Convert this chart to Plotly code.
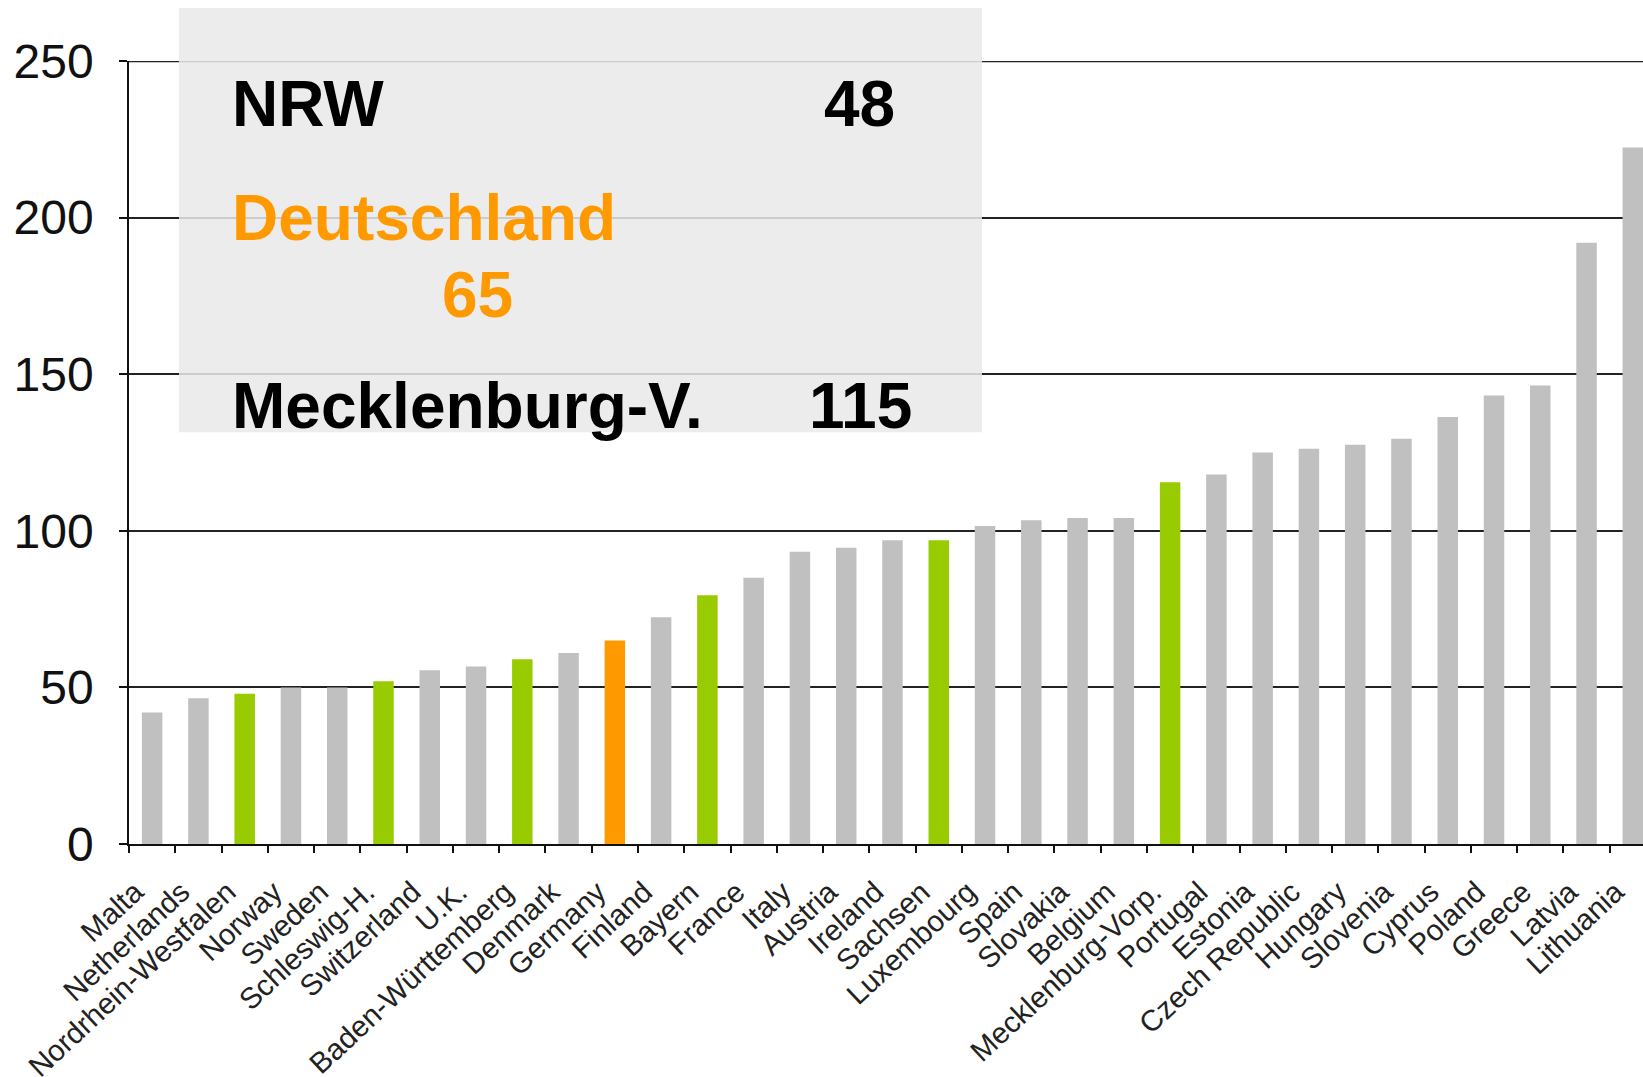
import plotly.graph_objects as go

categories = ["Malta", "Netherlands", "Nordrhein-Westfalen", "Norway", "Sweden", "Schleswig-H.",
              "Switzerland", "U.K.", "Baden-Württemberg", "Denmark", "Germany", "Finland",
              "Bayern", "France", "Italy", "Austria", "Ireland", "Sachsen", "Luxembourg",
              "Spain", "Slovakia", "Belgium", "Mecklenburg-Vorp.", "Portugal", "Estonia",
              "Czech Republic", "Hungary", "Slovenia", "Cyprus", "Poland", "Greece",
              "Latvia", "Lithuania"]
values = [42, 46.5, 48, 50, 50, 52, 55.5, 56.7, 59, 61, 65, 72.4, 79.4, 85, 93.3, 94.6,
          97, 97, 101.5, 103.4, 104.1, 104.1, 115.5, 118, 125, 126.2, 127.5, 129.4,
          136.3, 143.2, 146.4, 192, 222.4]
german_states = ["Nordrhein-Westfalen", "Schleswig-H.", "Baden-Württemberg", "Bayern",
                 "Sachsen", "Mecklenburg-Vorp."]
highlight_germany = "Germany"
y_ticks = [0, 50, 100, 150, 200, 250]

GRAY = "#C0C0C0"
GREEN = "#99CC00"
ORANGE = "#FF9900"

colors = []
for c in categories:
    if c == highlight_germany:
        colors.append(ORANGE)
    elif c in german_states:
        colors.append(GREEN)
    else:
        colors.append(GRAY)

FONT = "Liberation Sans, Arial, sans-serif"

fig = go.Figure(go.Bar(x=categories, y=values, marker=dict(color=colors, line=dict(width=0)),
                       hoverinfo="x+y"))

fig.update_layout(
    width=1643, height=1077,
    margin=dict(l=129, r=0, t=61, b=233, autoexpand=False),
    paper_bgcolor="white", plot_bgcolor="white",
    bargap=0.557,
    showlegend=False,
    font=dict(family=FONT, color="#111"),
)
fig.update_xaxes(
    type="category", range=[-0.5, 32.22], automargin=False,
    tickson="boundaries", ticks="outside", ticklen=7, tickwidth=2, tickcolor="#111",
    showline=True, linecolor="#111", linewidth=2,
    showgrid=False, tickangle=-43,
    tickfont=dict(size=29.5, family=FONT, color="#222"),
    ticklabelshift=-17, ticklabelstandoff=17,
)
fig.update_yaxes(
    range=[0, 250], tickvals=y_ticks, automargin=False,
    showgrid=True, gridcolor="#222", gridwidth=2.4, zeroline=False,
    showline=True, linecolor="#111", linewidth=1.5,
    ticks="outside", ticklen=8, tickwidth=2, tickcolor="#111",
    tickfont=dict(size=48, family=FONT, color="#111"),
    ticklabelstandoff=16,
)

# top gridline at the axis maximum (plotly omits it at the range end)
fig.add_shape(type="line", xref="paper", yref="y", x0=0, x1=1, y0=y_ticks[-1], y1=y_ticks[-1],
              line=dict(color="#222", width=2.4), layer="below")

fig.add_shape(type="rect", xref="paper", yref="paper",
              x0=0.033, x1=0.5634, y0=0.526, y1=1.0677,
              fillcolor="rgba(233,233,233,0.86)", line=dict(width=0), layer="above")

ann = [
    ("NRW", 0.0667, 0.9457, "black", "left"),
    ("48", 0.5074, 0.9457, "black", "right"),
    ("Deutschland", 0.0667, 0.7995, ORANGE, "left"),
    ("65", 0.2054, 0.7011, ORANGE, "left"),
    ("Mecklenburg-V.", 0.0667, 0.5594, "black", "left"),
    ("115", 0.4478, 0.5594, "black", "left"),
]
for t, x, y, col, xa in ann:
    fig.add_annotation(text="<b>%s</b>" % t, xref="paper", yref="paper", x=x, y=y,
                       xanchor=xa, yanchor="middle", showarrow=False,
                       font=dict(size=64, family=FONT, color=col))

fig.write_html("out.html", config={"displayModeBar": False},
               post_script="document.body.style.margin='0';")
